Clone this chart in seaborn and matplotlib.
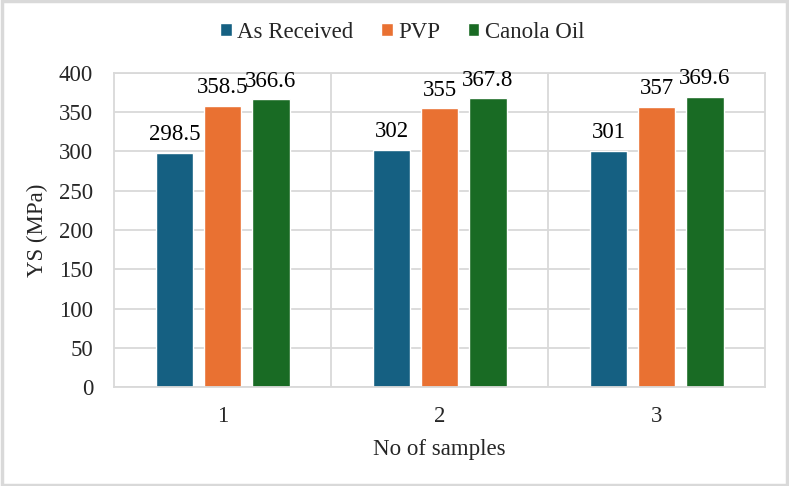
import matplotlib
matplotlib.use("Agg")
import matplotlib.pyplot as plt
import seaborn as sns
import pandas as pd
from matplotlib.patches import Rectangle
from matplotlib.ticker import FixedLocator

categories = ["1", "2", "3"]
series_names = ["As Received", "PVP", "Canola Oil"]
as_received = [298.5, 302, 301]
pvp = [358.5, 355, 357]
canola = [366.6, 367.8, 369.6]
yticks = [0, 50, 100, 150, 200, 250, 300, 350, 400]
colors = ["#156082", "#E97132", "#196B24"]

rows = []
for name, vals in zip(series_names, [as_received, pvp, canola]):
    for c, v in zip(categories, vals):
        rows.append({"sample": c, "series": name, "YS": v})
df = pd.DataFrame(rows)

sns.set_theme(style="white")
plt.rcParams['font.family'] = ['Liberation Serif', 'DejaVu Serif']
FS = 16.5

fig = plt.figure(figsize=(7.89, 4.86), dpi=100)
ax = fig.add_axes([0.1445, 0.2037, 0.8251, 0.6461])

sns.barplot(data=df, x="sample", y="YS", hue="series", hue_order=series_names,
            order=categories, palette=colors, width=0.664, gap=0.21,
            saturation=1, ax=ax, legend=True, errorbar=None)

for cont in ax.containers:
    ax.bar_label(cont, labels=[f"{v:g}" for v in cont.datavalues], padding=5.5,
                 fontsize=FS, color="#000000")

ax.set_ylim(0, 400)
ax.set_xlim(-0.5, 2.5)
ax.set_yticks(yticks)
ax.set_yticklabels([str(t) for t in yticks], fontsize=FS)
ax.tick_params(axis="x", labelsize=FS, length=0, pad=14)
ax.tick_params(axis="y", length=0, pad=15)
ax.xaxis.set_minor_locator(FixedLocator([0.5, 1.5]))
ax.grid(True, axis="y", color="#d9d9d9", linewidth=1.3)
ax.grid(True, axis="x", which="minor", color="#d9d9d9", linewidth=1.3)
ax.grid(False, axis="x", which="major")
ax.tick_params(axis="x", which="minor", length=0)
ax.set_axisbelow(True)
for s in ax.spines.values():
    s.set_color("#d9d9d9")
    s.set_linewidth(1.3)
    s.set_visible(True)

ax.set_xlabel("No of samples", fontsize=FS, labelpad=8)
ax.set_ylabel("YS (MPa)", fontsize=FS, labelpad=8)

handles, labels = ax.get_legend_handles_labels()
ax.legend_.remove()
fig.legend(handles, labels, loc="center", bbox_to_anchor=(0.51, 0.934), ncol=3,
           frameon=False, fontsize=FS, handlelength=0.5, handleheight=0.5,
           handletextpad=0.25, columnspacing=1.2)

fig.patches.append(Rectangle((0.002, 0.003), 0.996, 0.994, transform=fig.transFigure,
                             fill=False, edgecolor="#d9d9d9", linewidth=2.5))

fig.savefig("out.png", dpi=100)
